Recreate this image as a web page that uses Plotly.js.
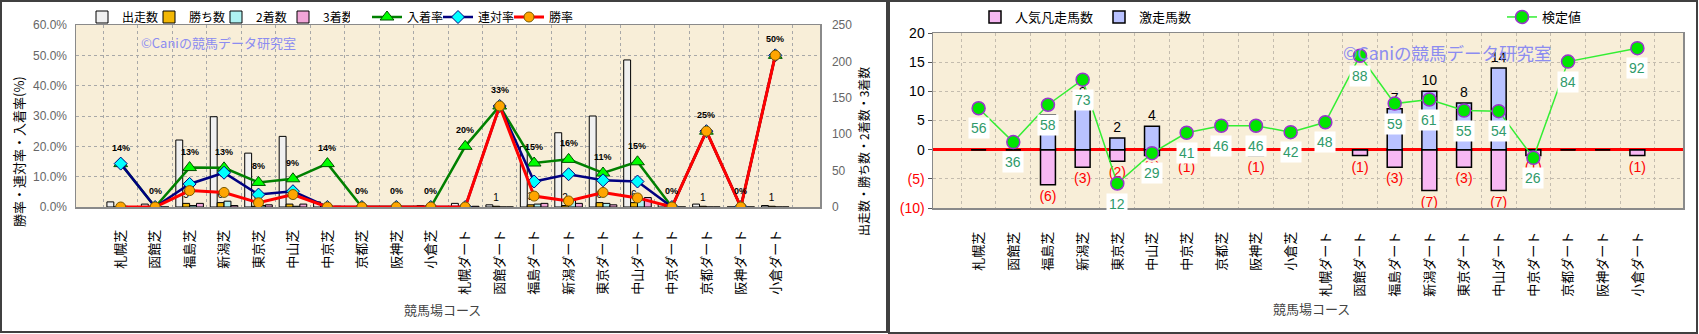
<!DOCTYPE html>
<html><head><meta charset="utf-8">
<script src="https://cdn.plot.ly/plotly-3.0.1.min.js"></script>
<style>html,body{margin:0;padding:0;background:#fff}#chart{width:1699px;height:334px}</style>
</head><body><div id="chart"></div>
<script>
// ---- data ----
const courses = ['札幌芝','函館芝','福島芝','新潟芝','東京芝','中山芝','中京芝','京都芝','阪神芝','小倉芝',
                 '札幌ダート','函館ダート','福島ダート','新潟ダート','東京ダート','中山ダート','中京ダート','京都ダート','阪神ダート','小倉ダート'];
// left chart counts
const runs    = [7,4,92,124,74,97,7,0,0,2, 5,3,83,102,125,202,4,4,0,2];
const wins    = [0,0,5,6,1,4,0,0,0,0, 0,1,3,2,6,6,0,1,0,1];
const seconds = [1,0,2,8,2,1,0,0,0,0, 0,0,4,9,5,11,0,0,0,0];
const thirds  = [0,0,5,2,3,4,1,0,0,0, 1,0,5,5,3,13,0,0,0,0];
// left chart rates (%)
const showRate  = [14.3,0,13.0,12.9,8.1,9.3,14.3,0,0,0, 20.0,33.3,14.5,15.7,11.2,14.9,0,25.0,0,50.0];
const placeRate = [14.3,0,7.6,11.3,4.1,5.2,0,0,0,0, 0,33.3,8.4,10.8,8.8,8.4,0,25.0,0,50.0];
const winRate   = [0,0,5.4,4.8,1.4,4.1,0,0,0,0, 0,33.3,3.6,2.0,4.8,3.0,0,25.0,0,50.0];
// right chart
const hotRunners  = [0,0,6,8,2,4,0,0,0,0, 0,0,7,10,8,14,0,0,0,0];          // 激走馬数
const flopRunners = [0,0,-6,-3,-2,-1,-1,0,-1,0, 0,-1,-3,-7,-3,-7,-1,0,0,-1]; // 人気凡走馬数
const testValue = [7.1,1.3,7.7,12.0,-5.8,-0.6,2.9,4.1,4.1,3.0, 4.7,16.1,7.9,8.6,6.7,6.6,-1.4,15.1,null,17.4];
const testLabel = [56,36,58,73,12,29,41,46,46,42, 48,88,59,61,55,54,26,84,null,92];
const rightTickVals = [-10,-5,0,5,10,15,20];
const rightTickText = ['(10)','(5)','0','5','10','15','20'];

// ---- helpers ----
const W = 1699, H = 334;
const px = v => v / W, py = v => 1 - v / H;
const JP = '"Noto Sans CJK JP", "Noto Sans", sans-serif';
const NUM = '"Liberation Sans", Arial, sans-serif';

const barCommon = {type:'bar', x:courses, xaxis:'x', yaxis:'y', legend:'legend',
  cliponaxis:false, constraintext:'none', hoverinfo:'skip'};

const traces = [
  Object.assign({}, barCommon, {name:'出走数', y:runs,
    marker:{color:'#f0f0f0', line:{color:'#000', width:1}}}),
  Object.assign({}, barCommon, {name:'勝ち数', y:wins,
    marker:{color:'#f2b705', line:{color:'#000', width:1}},
    text:wins.map(v => v > 0 ? String(v) : ''), textposition:'outside',
    textfont:{size:10, family:NUM, color:'#000'}}),
  Object.assign({}, barCommon, {name:'2着数', y:seconds,
    marker:{color:'#aef2f2', line:{color:'#000', width:1}}}),
  Object.assign({}, barCommon, {name:'3着数', y:thirds,
    marker:{color:'#f2a6d8', line:{color:'#000', width:1}}}),
  {type:'scatter', name:'入着率', x:courses, y:showRate, xaxis:'x', yaxis:'y2', legend:'legend4',
    mode:'lines+markers', line:{color:'#008000', width:2.5},
    marker:{symbol:'triangle-up', size:12, color:'#00ff00', line:{color:'#005000', width:1}}, hoverinfo:'skip'},
  {type:'scatter', name:'連対率', x:courses, y:placeRate, xaxis:'x', yaxis:'y2', legend:'legend4',
    mode:'lines+markers', line:{color:'#000080', width:2.5},
    marker:{symbol:'diamond', size:10, color:'#00ffff', line:{color:'#000080', width:1}}, hoverinfo:'skip'},
  {type:'scatter', name:'勝率', x:courses, y:winRate, xaxis:'x', yaxis:'y2', legend:'legend4',
    mode:'lines+markers', line:{color:'#ff0000', width:3},
    marker:{symbol:'circle', size:10, color:'#ffa500', line:{color:'#7a5a00', width:1}}, hoverinfo:'skip'},
  // right chart
  {type:'bar', name:'人気凡走馬数', x:courses, y:flopRunners, xaxis:'x2', yaxis:'y3', legend:'legend2',
    offsetgroup:'r', width:0.43, cliponaxis:false, constraintext:'none', hoverinfo:'skip',
    marker:{color:'#f7b8f3', line:{color:'#000', width:1.5}},
    text:flopRunners.map(v => v < 0 ? '(' + (-v) + ')' : ''), textposition:'outside',
    textfont:{size:14, family:NUM, color:'#ff0000'}},
  {type:'bar', name:'激走馬数', x:courses, y:hotRunners, xaxis:'x2', yaxis:'y3', legend:'legend2',
    offsetgroup:'r', width:0.43, cliponaxis:false, constraintext:'none', hoverinfo:'skip',
    marker:{color:'#b9c2ff', line:{color:'#000', width:1.5}},
    text:hotRunners.map(v => v > 0 ? String(v) : ''), textposition:'outside',
    textfont:{size:14, family:NUM, color:'#000'}},
  {type:'scatter', name:'検定値', x:courses, y:testValue, xaxis:'x2', yaxis:'y3', legend:'legend3',
    mode:'lines+markers', connectgaps:true, line:{color:'#33ee33', width:1.5},
    marker:{symbol:'circle', size:13, color:'#00e600', line:{color:'#9933cc', width:1.5}}, hoverinfo:'skip'}
];

const rateAnn = courses.map((c, i) => ({
  xref:'x', yref:'y2', x:c, y:showRate[i], text:'<b>' + Math.round(showRate[i]) + '%</b>',
  showarrow:false, yshift:16, font:{size:9, family:NUM, color:'#000'}
}));
const testAnn = [];
courses.forEach((c, i) => {
  if (testLabel[i] === null) return;
  testAnn.push({xref:'x2', yref:'y3', x:c, y:testValue[i], text:String(testLabel[i]),
    showarrow:false, yshift:-20, bgcolor:'#ffffff', borderpad:2,
    font:{size:14, family:NUM, color:'#2f9a6a'}});
});
const textAnn = [
  {xref:'paper', yref:'paper', x:px(18), y:py(152), xanchor:'center', yanchor:'middle', textangle:-90,
   text:'勝率・連対率・入着率(%)', showarrow:false, font:{size:13, family:JP, color:'#000'}},
  {xref:'paper', yref:'paper', x:px(863), y:py(152), xanchor:'center', yanchor:'middle', textangle:-90,
   text:'出走数・勝ち数・2着数・3着数', showarrow:false, font:{size:12, family:JP, color:'#000'}},
  {xref:'paper', yref:'paper', x:px(442), y:py(309), xanchor:'center', yanchor:'middle',
   text:'競馬場コース', showarrow:false, font:{size:13, family:JP, color:'#444'}},
  {xref:'paper', yref:'paper', x:px(1311), y:py(308), xanchor:'center', yanchor:'middle',
   text:'競馬場コース', showarrow:false, font:{size:13, family:JP, color:'#444'}},
  {xref:'paper', yref:'paper', x:px(218), y:py(43), xanchor:'center', yanchor:'middle',
   text:'©Caniの競馬データ研究室', showarrow:false, font:{size:13, family:JP, color:'#8c8cf0'}},
  {xref:'paper', yref:'paper', x:px(1447), y:py(52), xanchor:'center', yanchor:'middle',
   text:'©Caniの競馬データ研究室', showarrow:false, font:{size:17.5, family:JP, color:'#8c8cf0'}}
];

const catAxis = {type:'category', tickson:'boundaries', showgrid:true, gridcolor:'#a8a8a8', griddash:'dot',
  gridwidth:1, tickangle:-90, ticks:'', tickfont:{size:13, family:JP, color:'#000'}, ticklabelstandoff:16,
  showline:true, mirror:true, linecolor:'#8a8a8a', linewidth:1.5, zeroline:false, fixedrange:true};

const legendBase = {orientation:'h', xanchor:'left', y:py(17), yanchor:'middle', bgcolor:'rgba(0,0,0,0)',
  entrywidthmode:'pixels', traceorder:'normal'};

const layout = {
  width:W, height:H, margin:{l:0, r:0, t:0, b:0},
  paper_bgcolor:'#ffffff', plot_bgcolor:'#f8eed8',
  barmode:'group', bargap:0.2, bargroupgap:0,
  font:{family:JP, color:'#000'},
  xaxis:Object.assign({}, catAxis, {domain:[px(76), px(820)], anchor:'y'}),
  yaxis:{domain:[py(207), py(25)], anchor:'x', side:'right', range:[0,250], dtick:50,
    showgrid:false, zeroline:false, showline:true, mirror:true, linecolor:'#8a8a8a', linewidth:1.5,
    ticks:'', ticklabelstandoff:8, tickfont:{size:12, family:NUM, color:'#666'}, fixedrange:true},
  yaxis2:{overlaying:'y', anchor:'x', side:'left', range:[0,60], dtick:10, tickformat:'.1f', ticksuffix:'%',
    showgrid:true, gridcolor:'#a8a8a8', griddash:'dot', zeroline:false, showline:false,
    ticks:'', ticklabelstandoff:8, tickfont:{size:12, family:NUM, color:'#666'}, fixedrange:true},
  xaxis2:Object.assign({}, catAxis, {domain:[px(933), px(1683)], anchor:'y3', gridcolor:'#c4bcae', ticklabelstandoff:17}),
  yaxis3:{domain:[py(208), py(33)], anchor:'x2', range:[-10,20], tickmode:'array',
    tickvals:rightTickVals,
    ticktext:rightTickText.map(t => t.startsWith('(') ? '<span style="color:#ff0000">' + t + '</span>' : t),
    showgrid:true, gridcolor:'#c4bcae', griddash:'dot', zeroline:true, zerolinecolor:'#ff0000', zerolinewidth:3,
    showline:true, mirror:true, linecolor:'#8a8a8a', linewidth:1.5,
    ticks:'outside', ticklen:4, tickcolor:'#555', tickfont:{size:14, family:NUM, color:'#000'}, fixedrange:true},
  legend:Object.assign({}, legendBase, {x:px(82), entrywidth:22, font:{size:12, family:JP, color:'#000'}}),
  legend4:Object.assign({}, legendBase, {x:px(367), entrywidth:26, font:{size:12, family:JP, color:'#000'}}),
  legend2:Object.assign({}, legendBase, {x:px(975), entrywidth:79, font:{size:13, family:JP, color:'#000'}}),
  legend3:Object.assign({}, legendBase, {x:px(1502), font:{size:13, family:JP, color:'#000'}}),
  annotations:[].concat(textAnn, rateAnn, testAnn),
  shapes:[
    {type:'rect', xref:'paper', yref:'paper', x0:px(1), x1:px(887), y0:py(332), y1:py(1),
     line:{color:'#404040', width:2}, fillcolor:'rgba(0,0,0,0)'},
    {type:'rect', xref:'paper', yref:'paper', x0:px(889), x1:px(1697), y0:py(333), y1:py(1),
     line:{color:'#404040', width:2}, fillcolor:'rgba(0,0,0,0)'}
  ]
};

Plotly.newPlot('chart', traces, layout, {displayModeBar:false, staticPlot:true});
</script>
</body></html>
